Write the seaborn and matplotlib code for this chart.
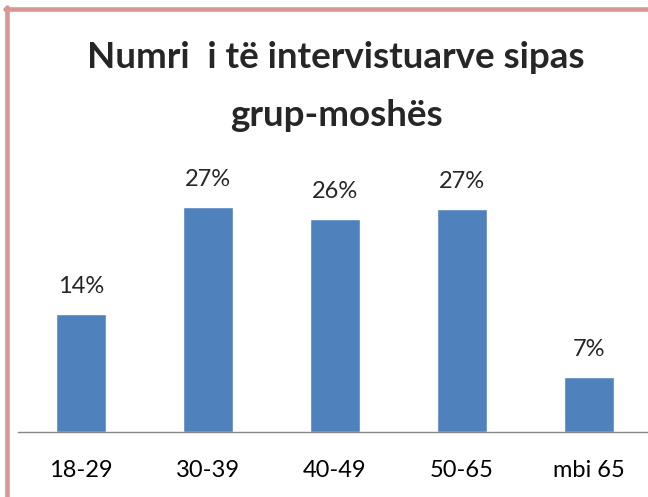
import matplotlib
matplotlib.use("Agg")
import matplotlib.pyplot as plt
import seaborn as sns
import pandas as pd
from matplotlib.lines import Line2D

# Data
groups = ["18-29", "30-39", "40-49", "50-65", "mbi 65"]
shares = [14.2, 27.0, 25.6, 26.8, 6.6]

df = pd.DataFrame({"grupi": groups, "perqindja": shares})

sns.set_theme(style="white")
plt.rcParams['font.family'] = ['Lato', 'DejaVu Sans']

W, H = 648, 497
fig = plt.figure(figsize=(W / 100, H / 100), dpi=100)
fig.patch.set_facecolor("white")

# axes placed in pixel terms
left = 17.5 / W
bottom = (H - 432) / H
ax = fig.add_axes([left, bottom, 1 - left, 250 / H])

sns.barplot(data=df, x="grupi", y="perqindja", color="#4F81BD",
            saturation=1, width=0.4, ax=ax)

ax.set_xlim(-0.5, 4.465)
ax.set_ylim(0, 30)
ax.set_xlabel("")
ax.set_ylabel("")
ax.set_yticks([])
for s in ["top", "right", "left"]:
    ax.spines[s].set_visible(False)
ax.spines["bottom"].set_color("#868686")
ax.spines["bottom"].set_linewidth(1)
ax.tick_params(axis="x", length=0, pad=20, labelsize=17, colors="#000000")
ax.set_facecolor("none")

for i, v in enumerate(shares):
    ax.text(i, v + 2.0, f"{v:.0f}%", ha="center", va="bottom", fontsize=17)

fig.text(336 / W, 1 - 58 / H, "Numri  i të intervistuarve sipas", ha="center",
         va="center", fontsize=26.5, fontweight="bold")
fig.text(336 / W, 1 - 115 / H, "grup-moshës", ha="center", va="center",
         fontsize=26.5, fontweight="bold")

# pink frame on top and left
pink = "#D99694"
fig.add_artist(Line2D([5 / W, 1], [1 - 9 / H, 1 - 9 / H], color=pink,
                      linewidth=3.3, transform=fig.transFigure))
fig.add_artist(Line2D([7 / W, 7 / W], [0, 1 - 7 / H], color=pink,
                      linewidth=3.3, transform=fig.transFigure))

fig.savefig("out.png", dpi=100)
